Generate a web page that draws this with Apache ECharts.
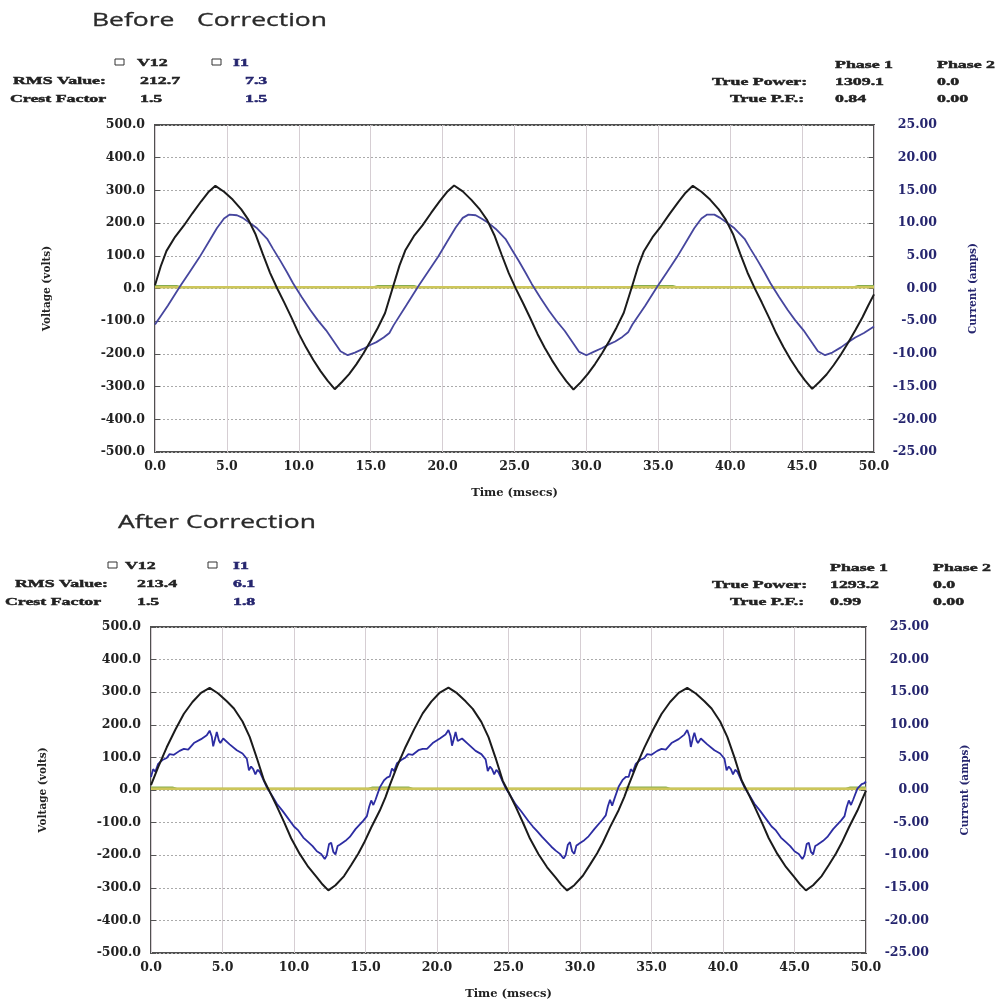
<!DOCTYPE html>
<html>
<head>
<meta charset="utf-8">
<script src="https://cdn.jsdelivr.net/npm/echarts@6/dist/echarts.min.js"></script>
<style>
html,body{margin:0;padding:0;background:#fff;}
#chart{width:1002px;height:1004px;}
</style>
</head>
<body>
<div id="chart"></div>
<script>
// ---------- DATA (time in msecs) ----------
const xTicks = [0,5,10,15,20,25,30,35,40,45,50];
const voltTicks = [-500,-400,-300,-200,-100,0,100,200,300,400,500];
const ampTicks = [-25,-20,-15,-10,-5,0,5,10,15,20,25];

// Before correction: V12 (volts)
const beforeV12 = [
 [0,10],[0.4,68],[0.8,115],[1.4,158],[2.0,192],[2.6,230],[3.2,266],[3.7,294],[4.2,314],[4.8,296],[5.4,272],[6.0,242],[6.5,210],[7.0,165],[7.5,105],[8.0,48],[8.5,0],[9.0,-44],[9.5,-90],[10.0,-138],[10.5,-180],[11.0,-218],[11.5,-252],[12.0,-282],[12.5,-308],[13.0,-286],[13.5,-262],[14.0,-232],[14.5,-198],[15.0,-160],[15.5,-120],[16.0,-75],
 [16.6,12],[17.0,70],[17.4,116],[18.0,160],[18.6,193],[19.2,231],[19.8,267],[20.3,295],[20.8,315],[21.4,297],[22.0,271],[22.6,241],[23.1,209],[23.6,163],[24.1,104],[24.6,47],[25.1,-1],[25.6,-45],[26.1,-91],[26.6,-139],[27.1,-181],[27.6,-219],[28.1,-253],[28.6,-283],[29.1,-309],[29.6,-287],[30.1,-261],[30.6,-231],[31.1,-197],[31.6,-160],[32.1,-119],[32.6,-74],
 [33.2,10],[33.6,68],[34.0,114],[34.6,157],[35.2,191],[35.8,229],[36.4,265],[36.9,293],[37.4,314],[38.0,296],[38.6,272],[39.2,242],[39.7,210],[40.2,166],[40.7,106],[41.2,49],[41.7,1],[42.2,-43],[42.7,-89],[43.2,-137],[43.7,-179],[44.2,-217],[44.7,-251],[45.2,-281],[45.7,-307],[46.2,-286],[46.7,-263],[47.2,-234],[47.7,-202],[48.2,-166],[48.7,-128],[49.2,-88],[49.6,-52],[50.0,-18]
];
// Before correction: I1 (amps)
const beforeI1 = [
 [0,-5.5],[0.9,-2.6],[1.7,0.2],[2.4,2.5],[3.1,4.8],[3.7,7.0],[4.3,9.2],[4.8,10.7],[5.2,11.3],[5.7,11.2],[6.1,10.8],[6.6,10.0],[7.1,9.2],[7.8,7.6],[8.2,6.1],[8.7,4.3],[9.2,2.4],[9.6,0.8],[10.2,-1.3],[10.8,-3.3],[11.3,-4.8],[11.9,-6.4],[12.4,-8.0],[12.9,-9.6],[13.4,-10.2],[13.9,-9.8],[14.5,-9.2],[15.0,-8.6],[15.4,-8.2],[15.9,-7.5],[16.3,-6.8],
 [16.6,-5.6],[17.5,-2.5],[18.3,0.3],[19.0,2.6],[19.7,4.9],[20.3,7.1],[20.9,9.3],[21.4,10.8],[21.8,11.3],[22.3,11.2],[22.7,10.7],[23.2,10.0],[23.7,9.1],[24.4,7.5],[24.8,6.0],[25.3,4.2],[25.8,2.3],[26.2,0.7],[26.8,-1.4],[27.4,-3.4],[27.9,-4.9],[28.5,-6.5],[29.0,-8.1],[29.5,-9.7],[30.0,-10.2],[30.5,-9.7],[31.1,-9.1],[31.6,-8.5],[32.0,-8.1],[32.5,-7.4],[32.9,-6.7],
 [33.2,-5.5],[34.1,-2.6],[34.9,0.2],[35.6,2.5],[36.3,4.8],[36.9,7.0],[37.5,9.2],[38.0,10.7],[38.4,11.3],[38.9,11.3],[39.3,10.8],[39.8,10.0],[40.3,9.2],[41.0,7.6],[41.4,6.1],[41.9,4.3],[42.4,2.4],[42.8,0.8],[43.4,-1.3],[44.0,-3.3],[44.5,-4.8],[45.1,-6.4],[45.6,-8.0],[46.1,-9.6],[46.6,-10.2],[47.1,-9.8],[47.7,-9.0],[48.2,-8.2],[48.7,-7.5],[49.3,-6.8],[50.0,-5.8]
];
// After correction: V12 (volts)
const afterV12 = [
 [0,15],[0.5,70],[1.1,131],[1.7,185],[2.3,234],[2.9,270],[3.5,298],[4.1,313],[4.7,296],[5.3,272],[5.8,250],[6.4,210],[6.9,163],[7.4,98],[7.9,30],[8.3,-5],[8.8,-50],[9.3,-98],[9.8,-148],[10.4,-196],[11.0,-236],[11.6,-268],[12.0,-290],[12.4,-308],[12.9,-292],[13.5,-264],[14.0,-230],[14.5,-195],[14.9,-162],[15.4,-115],[16.0,-63],[16.4,-22],
 [16.7,15],[17.2,72],[17.8,132],[18.4,186],[19.0,235],[19.6,271],[20.2,299],[20.8,314],[21.4,297],[22.0,272],[22.5,249],[23.1,209],[23.6,162],[24.1,98],[24.6,28],[25.0,-6],[25.5,-51],[26.0,-99],[26.5,-149],[27.1,-197],[27.7,-237],[28.3,-269],[28.7,-291],[29.1,-308],[29.6,-292],[30.2,-263],[30.7,-229],[31.2,-194],[31.6,-161],[32.1,-114],[32.7,-62],[33.1,-21],
 [33.4,15],[33.9,70],[34.5,130],[35.1,184],[35.7,233],[36.3,270],[36.9,298],[37.5,313],[38.1,296],[38.7,272],[39.2,250],[39.8,210],[40.3,163],[40.8,100],[41.3,30],[41.7,-5],[42.2,-50],[42.7,-98],[43.2,-148],[43.8,-196],[44.4,-236],[45.0,-268],[45.4,-290],[45.8,-308],[46.3,-292],[46.9,-264],[47.4,-230],[47.9,-195],[48.3,-162],[48.8,-115],[49.4,-63],[49.8,-22],[50.0,-2]
];
// After correction: I1 (amps)
const afterI1 = [
 [0,2.0],[0.15,3.2],[0.3,2.8],[0.5,4.0],[0.8,4.6],[1.1,4.9],[1.3,5.5],[1.6,5.4],[2.0,6.0],[2.3,6.3],[2.6,6.2],[3.0,7.2],[3.5,7.8],[3.9,8.4],[4.1,9.1],[4.25,8.2],[4.35,6.7],[4.5,8.0],[4.6,8.9],[4.75,7.6],[4.85,7.2],[5.05,7.9],[5.5,7.0],[6.0,6.1],[6.4,5.6],[6.7,4.8],[6.85,3.0],[7.0,3.6],[7.15,3.2],[7.3,2.4],[7.45,3.1],[7.6,2.8],[8.1,0.4],[8.5,-1.0],[8.8,-2.1],[9.2,-3.2],[9.7,-4.7],[10.0,-5.6],[10.3,-6.2],[10.65,-7.3],[11.0,-8.0],[11.3,-8.6],[11.6,-9.4],[11.9,-9.8],[12.15,-10.6],[12.3,-10.0],[12.45,-8.3],[12.6,-8.1],[12.75,-9.5],[12.9,-9.9],[13.05,-8.6],[13.2,-8.4],[13.6,-7.8],[13.9,-7.2],[14.3,-6.0],[14.85,-4.7],[15.1,-4.0],[15.25,-2.6],[15.4,-1.6],[15.55,-2.3],[15.7,-1.5],[16.0,0.4],[16.3,1.5],[16.5,1.9],
 [16.7,2.1],[16.85,3.3],[17.0,2.9],[17.2,4.1],[17.5,4.6],[17.8,5.0],[18.0,5.5],[18.3,5.4],[18.7,6.1],[19.0,6.3],[19.3,6.3],[19.7,7.2],[20.2,7.9],[20.6,8.5],[20.8,9.2],[20.95,8.3],[21.05,6.8],[21.2,8.0],[21.3,8.9],[21.45,7.5],[21.55,7.2],[21.75,7.9],[22.2,7.0],[22.7,6.0],[23.1,5.5],[23.4,4.7],[23.55,2.9],[23.7,3.6],[23.85,3.2],[24.0,2.4],[24.15,3.1],[24.3,2.7],[24.8,0.3],[25.2,-1.1],[25.5,-2.2],[25.9,-3.3],[26.4,-4.8],[26.7,-5.6],[27.0,-6.3],[27.35,-7.2],[27.7,-8.0],[28.0,-8.7],[28.3,-9.3],[28.6,-9.8],[28.85,-10.5],[29.0,-10.0],[29.15,-8.4],[29.3,-8.0],[29.45,-9.4],[29.6,-9.8],[29.75,-8.5],[29.9,-8.3],[30.3,-7.7],[30.6,-7.1],[31.0,-6.0],[31.55,-4.6],[31.8,-3.9],[31.95,-2.5],[32.1,-1.5],[32.25,-2.4],[32.4,-1.4],[32.7,0.5],[33.0,1.6],[33.2,2.0],
 [33.4,2.0],[33.55,3.2],[33.7,2.8],[33.9,4.0],[34.2,4.6],[34.5,4.9],[34.7,5.5],[35.0,5.4],[35.4,6.0],[35.7,6.3],[36.0,6.2],[36.4,7.2],[36.9,7.8],[37.3,8.5],[37.5,9.2],[37.65,8.2],[37.75,6.6],[37.9,8.0],[38.0,8.8],[38.15,7.6],[38.25,7.2],[38.45,7.9],[38.9,7.0],[39.4,6.1],[39.8,5.6],[40.1,4.8],[40.25,3.0],[40.4,3.6],[40.55,3.2],[40.7,2.4],[40.85,3.1],[41.0,2.8],[41.5,0.4],[41.9,-1.0],[42.2,-2.1],[42.6,-3.2],[43.1,-4.7],[43.4,-5.6],[43.7,-6.2],[44.05,-7.3],[44.4,-8.0],[44.7,-8.6],[45.0,-9.4],[45.3,-9.8],[45.55,-10.6],[45.7,-10.0],[45.85,-8.3],[46.0,-8.1],[46.15,-9.5],[46.3,-9.9],[46.45,-8.6],[46.6,-8.4],[47.0,-7.8],[47.3,-7.2],[47.7,-6.0],[48.25,-4.7],[48.5,-4.0],[48.65,-2.6],[48.8,-1.6],[48.95,-2.3],[49.1,-1.5],[49.4,0.2],[49.7,0.9],[49.85,1.0],[50.0,1.3]
];
// Phase 2 traces (near zero)
const phase2V = [[0,4],[50,4]];
const phase2I = [[0,8],[1.5,8],[1.8,4],[15.2,4],[15.5,8],[18.0,8],[18.3,4],[33.0,4],[33.3,8],[36.0,8],[36.3,4],[48.6,4],[48.9,8],[50,8]];

// Header texts
const beforeStats = {v12:'212.7', i1:'7.3', crestV:'1.5', crestI:'1.5', power:'1309.1', power2:'0.0', pf:'0.84', pf2:'0.00'};
const afterStats  = {v12:'213.4', i1:'6.1', crestV:'1.5', crestI:'1.8', power:'1293.2', power2:'0.0', pf:'0.99', pf2:'0.00'};

// ---------- CHART ----------
const chart = echarts.init(document.getElementById('chart'), null, {renderer:'canvas'});
const BLACK = '#1b1b1b', NAVY = '#25256e';
const LBL = {fontFamily:'DejaVu Serif', fontWeight:'bold', fontSize:12.5};

function xAx(gi){
  return {type:'value', gridIndex:gi, min:0, max:50, interval:5,
    axisLine:{show:false}, axisTick:{show:false},
    axisLabel:Object.assign({color:'#222', margin:8, formatter:v=>v.toFixed(1)}, LBL),
    splitLine:{show:true, lineStyle:{color:'#d6ced3', width:1, type:'solid'}},
    name:'Time (msecs)', nameLocation:'middle', nameGap:35,
    nameTextStyle:{fontFamily:'DejaVu Serif', fontWeight:'bold', fontSize:11.5, color:'#222'}};
}
function yLeft(gi){
  return {type:'value', gridIndex:gi, position:'left', min:-500, max:500, interval:100,
    axisLine:{show:false}, axisTick:{show:true, inside:true, length:5, lineStyle:{color:'#555'}},
    axisLabel:Object.assign({color:'#222', margin:10, formatter:v=>v.toFixed(1)}, LBL),
    splitLine:{show:true, lineStyle:{color:'#aaaaaa', width:1, type:[2,2]}},
    name:'Voltage (volts)', nameLocation:'middle', nameRotate:90, nameGap:102,
    nameTextStyle:{fontFamily:'DejaVu Serif', fontWeight:'bold', fontSize:10.5, color:'#222'}};
}
function yRight(gi){
  return {type:'value', gridIndex:gi, position:'right', min:-25, max:25, interval:5,
    axisLine:{show:false}, axisTick:{show:true, inside:true, length:5, lineStyle:{color:'#555'}},
    axisLabel:Object.assign({color:NAVY, margin:63, align:'right', formatter:v=>v.toFixed(2)}, LBL),
    splitLine:{show:false},
    name:'Current (amps)', nameLocation:'middle', nameRotate:90, nameGap:94,
    nameTextStyle:{fontFamily:'DejaVu Serif', fontWeight:'bold', fontSize:10.5, color:NAVY}};
}
function line(data, xi, yi, color, width, z){
  return {type:'line', xAxisIndex:xi, yAxisIndex:yi, data:data, showSymbol:false, symbol:'none',
    smooth:false, animation:false, z:z||2, lineStyle:{color:color, width:width}, silent:true};
}

const TXT_FONT = 'bold 11px "Liberation Serif"';
const SX = 1.62;
function txt(s, x, y, color, font, sx, thick){
  const c = color||'#222';
  return {type:'text', x:x, y:y, scaleX:sx||SX, z:100,
    style:{text:s, font:font||TXT_FONT, fill:c, stroke:c, lineWidth:(thick===undefined?0.45:thick),
      align:'left', verticalAlign:'middle', textAlign:'left', textVerticalAlign:'middle'}};
}
function box(x, y){
  return {type:'rect', z:100, shape:{x:x, y:y, width:9, height:6}, style:{fill:'#fff', stroke:'#333', lineWidth:1}};
}
function header(st, dy, o){
  return [
    box(o.b1, 59+dy), txt('V12', o.v12x, 63+dy),
    box(o.b2, 59+dy), txt('I1', 233, 63+dy, NAVY),
    txt('RMS Value:', o.rmsx, 81+dy), txt(st.v12, o.valx, 81+dy), txt(st.i1, o.ival, 81+dy, NAVY),
    txt('Crest Factor', o.crx, 99+dy), txt(st.crestV, o.valx, 99+dy), txt(st.crestI, o.ival, 99+dy, NAVY),
    txt('Phase 1', o.p1, 65+dy), txt('Phase 2', o.p2, 65+dy),
    txt('True Power:', 712, 82+dy), txt(st.power, o.p1, 82+dy), txt(st.power2, o.p2, 82+dy),
    txt('True P.F.:', 730, 99+dy), txt(st.pf, o.p1, 99+dy), txt(st.pf2, o.p2, 99+dy)
  ];
}
const TITLE_FONT = '18px "Open Sans"';
const graphics = [].concat(
  [txt('Before', 92, 21, '#2a2a2a', TITLE_FONT, 1.47, 0.3), txt('Correction', 197, 21, '#2a2a2a', TITLE_FONT, 1.47, 0.3)],
  header(beforeStats, 0, {b1:115, v12x:137, b2:212, rmsx:13, valx:140, ival:245, crx:10, p1:835, p2:937}),
  [txt('After', 118, 523, '#2a2a2a', TITLE_FONT, 1.47, 0.3), txt('Correction', 186, 523, '#2a2a2a', TITLE_FONT, 1.47, 0.3)],
  header(afterStats, 503, {b1:108, v12x:125, b2:208, rmsx:15, valx:137, ival:233, crx:5, p1:830, p2:933})
);

const option = {
  backgroundColor:'#ffffff',
  animation:false,
  grid:[
    {left:155, top:125, width:719, height:327, show:true, borderColor:'#505050', borderWidth:2, backgroundColor:'#fff', containLabel:false},
    {left:151, top:627, width:715, height:326, show:true, borderColor:'#505050', borderWidth:2, backgroundColor:'#fff', containLabel:false}
  ],
  xAxis:[xAx(0), xAx(1)],
  yAxis:[yLeft(0), yRight(0), yLeft(1), yRight(1)],
  series:[
    line(phase2I, 0, 0, '#86ad4e', 2, 2),
    line(phase2V, 0, 0, '#cdc65a', 2.5, 3),
    line(beforeI1, 0, 1, '#46469e', 1.8, 4),
    line(beforeV12, 0, 0, BLACK, 2, 5),
    line(phase2I, 1, 2, '#86ad4e', 2, 2),
    line(phase2V, 1, 2, '#cdc65a', 2.5, 3),
    line(afterI1, 1, 3, '#2c2ca2', 1.8, 4),
    line(afterV12, 1, 2, BLACK, 2, 5)
  ],
  graphic: graphics
};
chart.setOption(option);
</script>
</body>
</html>
